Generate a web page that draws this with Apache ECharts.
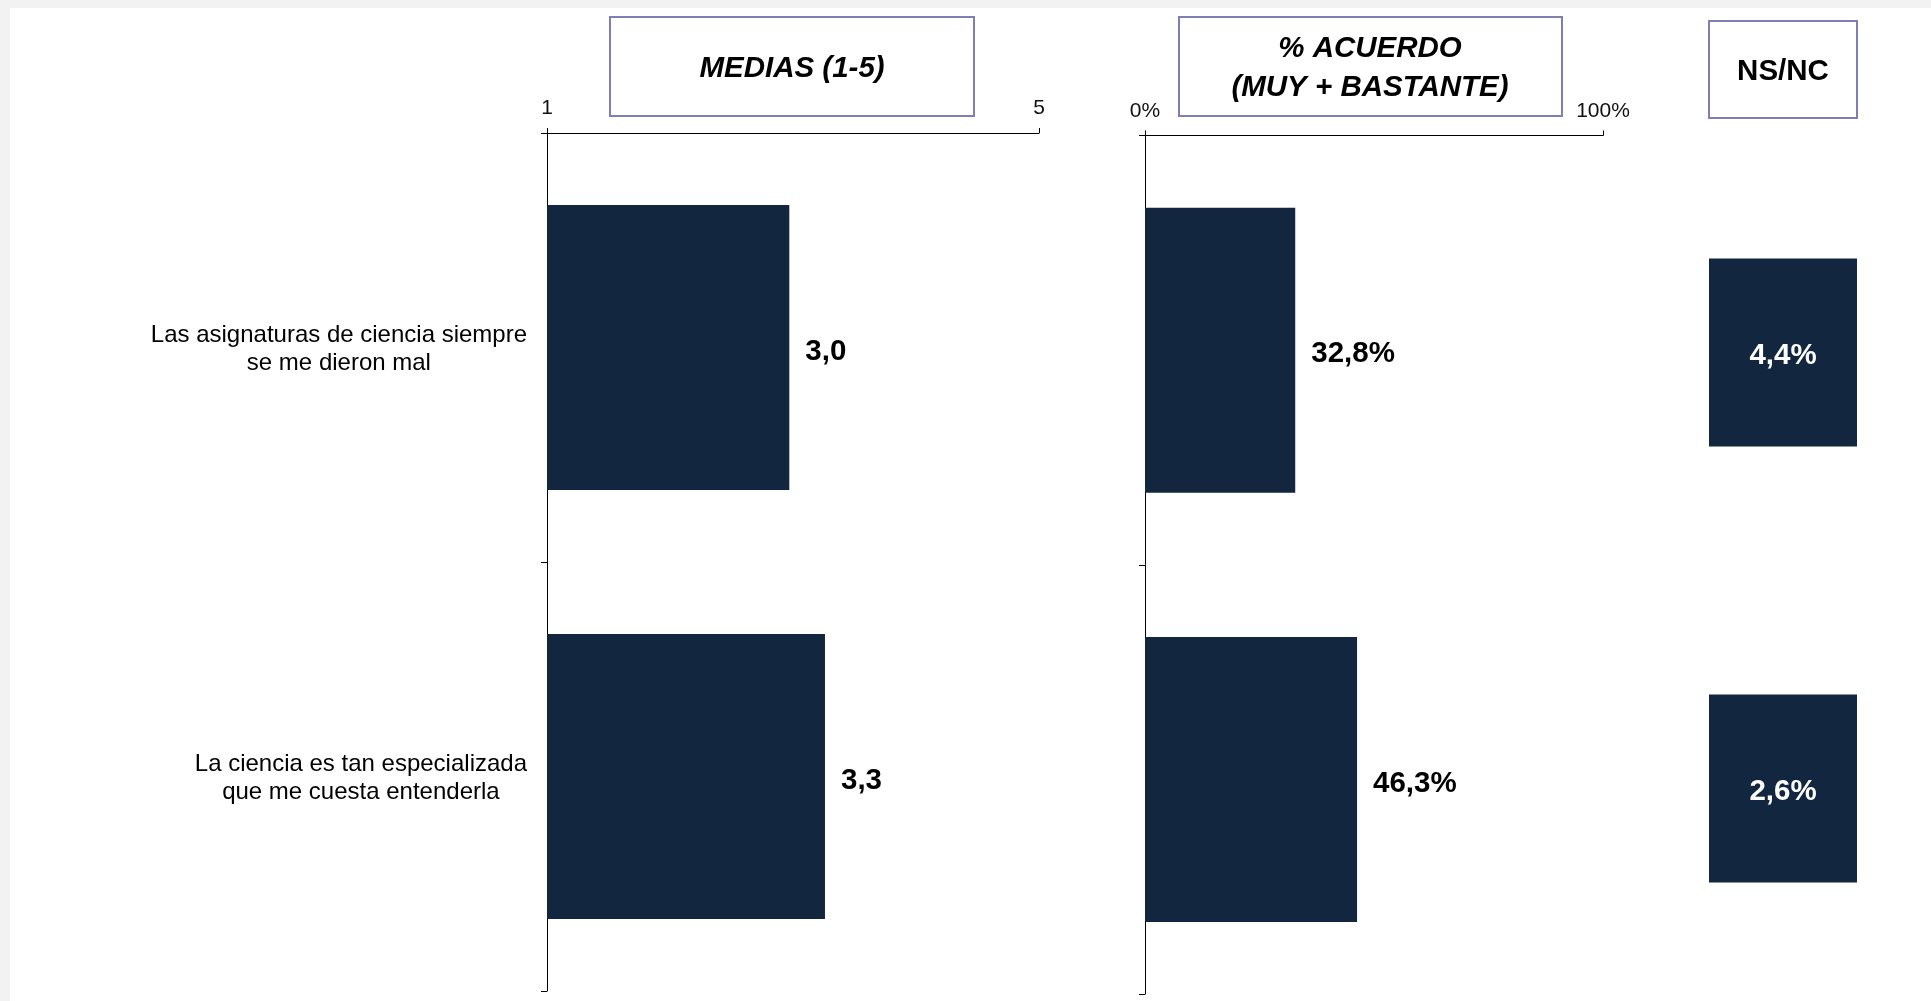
<!DOCTYPE html>
<html>
<head>
<meta charset="utf-8">
<script src="https://cdn.jsdelivr.net/npm/echarts@6/dist/echarts.min.js"></script>
<style>
html,body{margin:0;padding:0;background:#f2f2f2;}
#c{width:1931px;height:1001px;}
</style>
</head>
<body>
<div id="c"></div>
<script>
const categories = [
  'Las asignaturas de ciencia siempre\nse me dieron mal',
  'La ciencia es tan especializada\nque me cuesta entenderla'
];
const medias = [2.97, 3.26];
const acuerdo = [32.8, 46.3];
const nsnc = [4.4, 2.6];
const mediasTicks = ['1', '5'];
const acuerdoTicks = ['0%', '100%'];

const FONT = 'Liberation Sans, Arial, sans-serif';
const BAR = '#13263f';
const BOX = '#7f7fb6';
const fmt = v => v.toFixed(1).replace('.', ',');

const chart = echarts.init(document.getElementById('c'));

const catAxisBase = {
  type: 'category',
  data: categories,
  inverse: true,
  axisLine: { show: true, lineStyle: { color: '#000', width: 1 } },
  axisTick: { show: true, length: 6, lineStyle: { color: '#000' } },
  splitLine: { show: false }
};
const headFont = { fontSize: 29.5, fontWeight: 'bold', fontFamily: FONT, fill: '#000', align: 'center', verticalAlign: 'middle' };

chart.setOption({
  backgroundColor: '#f2f2f2',
  animation: false,
  textStyle: { fontFamily: FONT },
  graphic: [
    { type: 'rect', z: -100, shape: { x: 10, y: 8, width: 1921, height: 993 }, style: { fill: '#ffffff' } },
    { type: 'rect', shape: { x: 610, y: 17, width: 364, height: 99 }, style: { fill: '#fff', stroke: BOX, lineWidth: 2 } },
    { type: 'text', x: 792, y: 69, style: Object.assign({ text: 'MEDIAS (1-5)', fontStyle: 'italic' }, headFont) },
    { type: 'rect', shape: { x: 1179, y: 17, width: 383, height: 99 }, style: { fill: '#fff', stroke: BOX, lineWidth: 2 } },
    { type: 'text', x: 1370, y: 49, style: Object.assign({ text: '% ACUERDO', fontStyle: 'italic' }, headFont) },
    { type: 'text', x: 1370, y: 88, style: Object.assign({ text: '(MUY + BASTANTE)', fontStyle: 'italic' }, headFont) },
    { type: 'rect', shape: { x: 1709, y: 21, width: 148, height: 97 }, style: { fill: '#fff', stroke: BOX, lineWidth: 2 } },
    { type: 'text', x: 1783, y: 72, style: Object.assign({ text: 'NS/NC' }, headFont) }
  ],
  grid: [
    { left: 547, top: 133, width: 492, height: 858 },
    { left: 1145, top: 135.5, width: 458, height: 858.5 },
    { left: 1709, top: 352.5, width: 148, height: 436 }
  ],
  xAxis: [
    {
      gridIndex: 0, type: 'value', position: 'top', min: 1, max: 5, interval: 4,
      axisLine: { show: true, lineStyle: { color: '#000', width: 1 } },
      axisTick: { show: true, inside: false, length: 5, lineStyle: { color: '#000' } },
      splitLine: { show: false },
      axisLabel: { show: true, margin: 14, fontSize: 21, color: '#111', fontFamily: FONT, showMinLabel: true, showMaxLabel: true,
        formatter: v => mediasTicks[v === 1 ? 0 : 1] }
    },
    {
      gridIndex: 1, type: 'value', position: 'top', min: 0, max: 100, interval: 100,
      axisLine: { show: true, lineStyle: { color: '#000', width: 1 } },
      axisTick: { show: true, inside: false, length: 5, lineStyle: { color: '#000' } },
      splitLine: { show: false },
      axisLabel: { show: true, margin: 14, fontSize: 21, color: '#111', fontFamily: FONT, showMinLabel: true, showMaxLabel: true,
        formatter: v => acuerdoTicks[v === 0 ? 0 : 1] }
    },
    { gridIndex: 2, type: 'category', data: ['NS/NC'], show: false }
  ],
  yAxis: [
    Object.assign({}, catAxisBase, {
      gridIndex: 0,
      axisLabel: {
        show: true, margin: 20, align: 'right', color: '#000',
        formatter: v => v.split('\n').map(l => '{c|' + l + '}').join('\n'),
        rich: { c: { align: 'center', fontSize: 24, lineHeight: 28, fontFamily: FONT, color: '#000', padding: [4, 0, 0, 0] } }
      }
    }),
    Object.assign({}, catAxisBase, { gridIndex: 1, axisLabel: { show: false } }),
    { gridIndex: 2, type: 'category', data: categories, inverse: true, boundaryGap: false, show: false }
  ],
  series: [
    {
      type: 'bar', xAxisIndex: 0, yAxisIndex: 0, data: medias, barWidth: 285, clip: true,
      itemStyle: { color: BAR },
      label: { show: true, position: 'right', distance: 16, offset: [0, 4], fontSize: 29.5, fontWeight: 'bold', color: '#000', fontFamily: FONT,
        formatter: p => fmt(p.value) }
    },
    {
      type: 'bar', xAxisIndex: 1, yAxisIndex: 1, data: acuerdo, barWidth: 285, clip: true,
      itemStyle: { color: BAR },
      label: { show: true, position: 'right', distance: 16, offset: [0, 4], fontSize: 29.5, fontWeight: 'bold', color: '#000', fontFamily: FONT,
        formatter: p => fmt(p.value) + '%' }
    },
    {
      type: 'scatter', xAxisIndex: 2, yAxisIndex: 2,
      data: nsnc.map((v, i) => ['NS/NC', categories[i], v]),
      symbol: 'rect', symbolSize: [148, 188],
      itemStyle: { color: BAR, opacity: 1 },
      label: { show: true, position: 'inside', offset: [0, 3], fontSize: 29.5, fontWeight: 'bold', color: '#fff', fontFamily: FONT,
        formatter: p => fmt(p.value[2]) + '%' }
    }
  ]
});
</script>
</body>
</html>
